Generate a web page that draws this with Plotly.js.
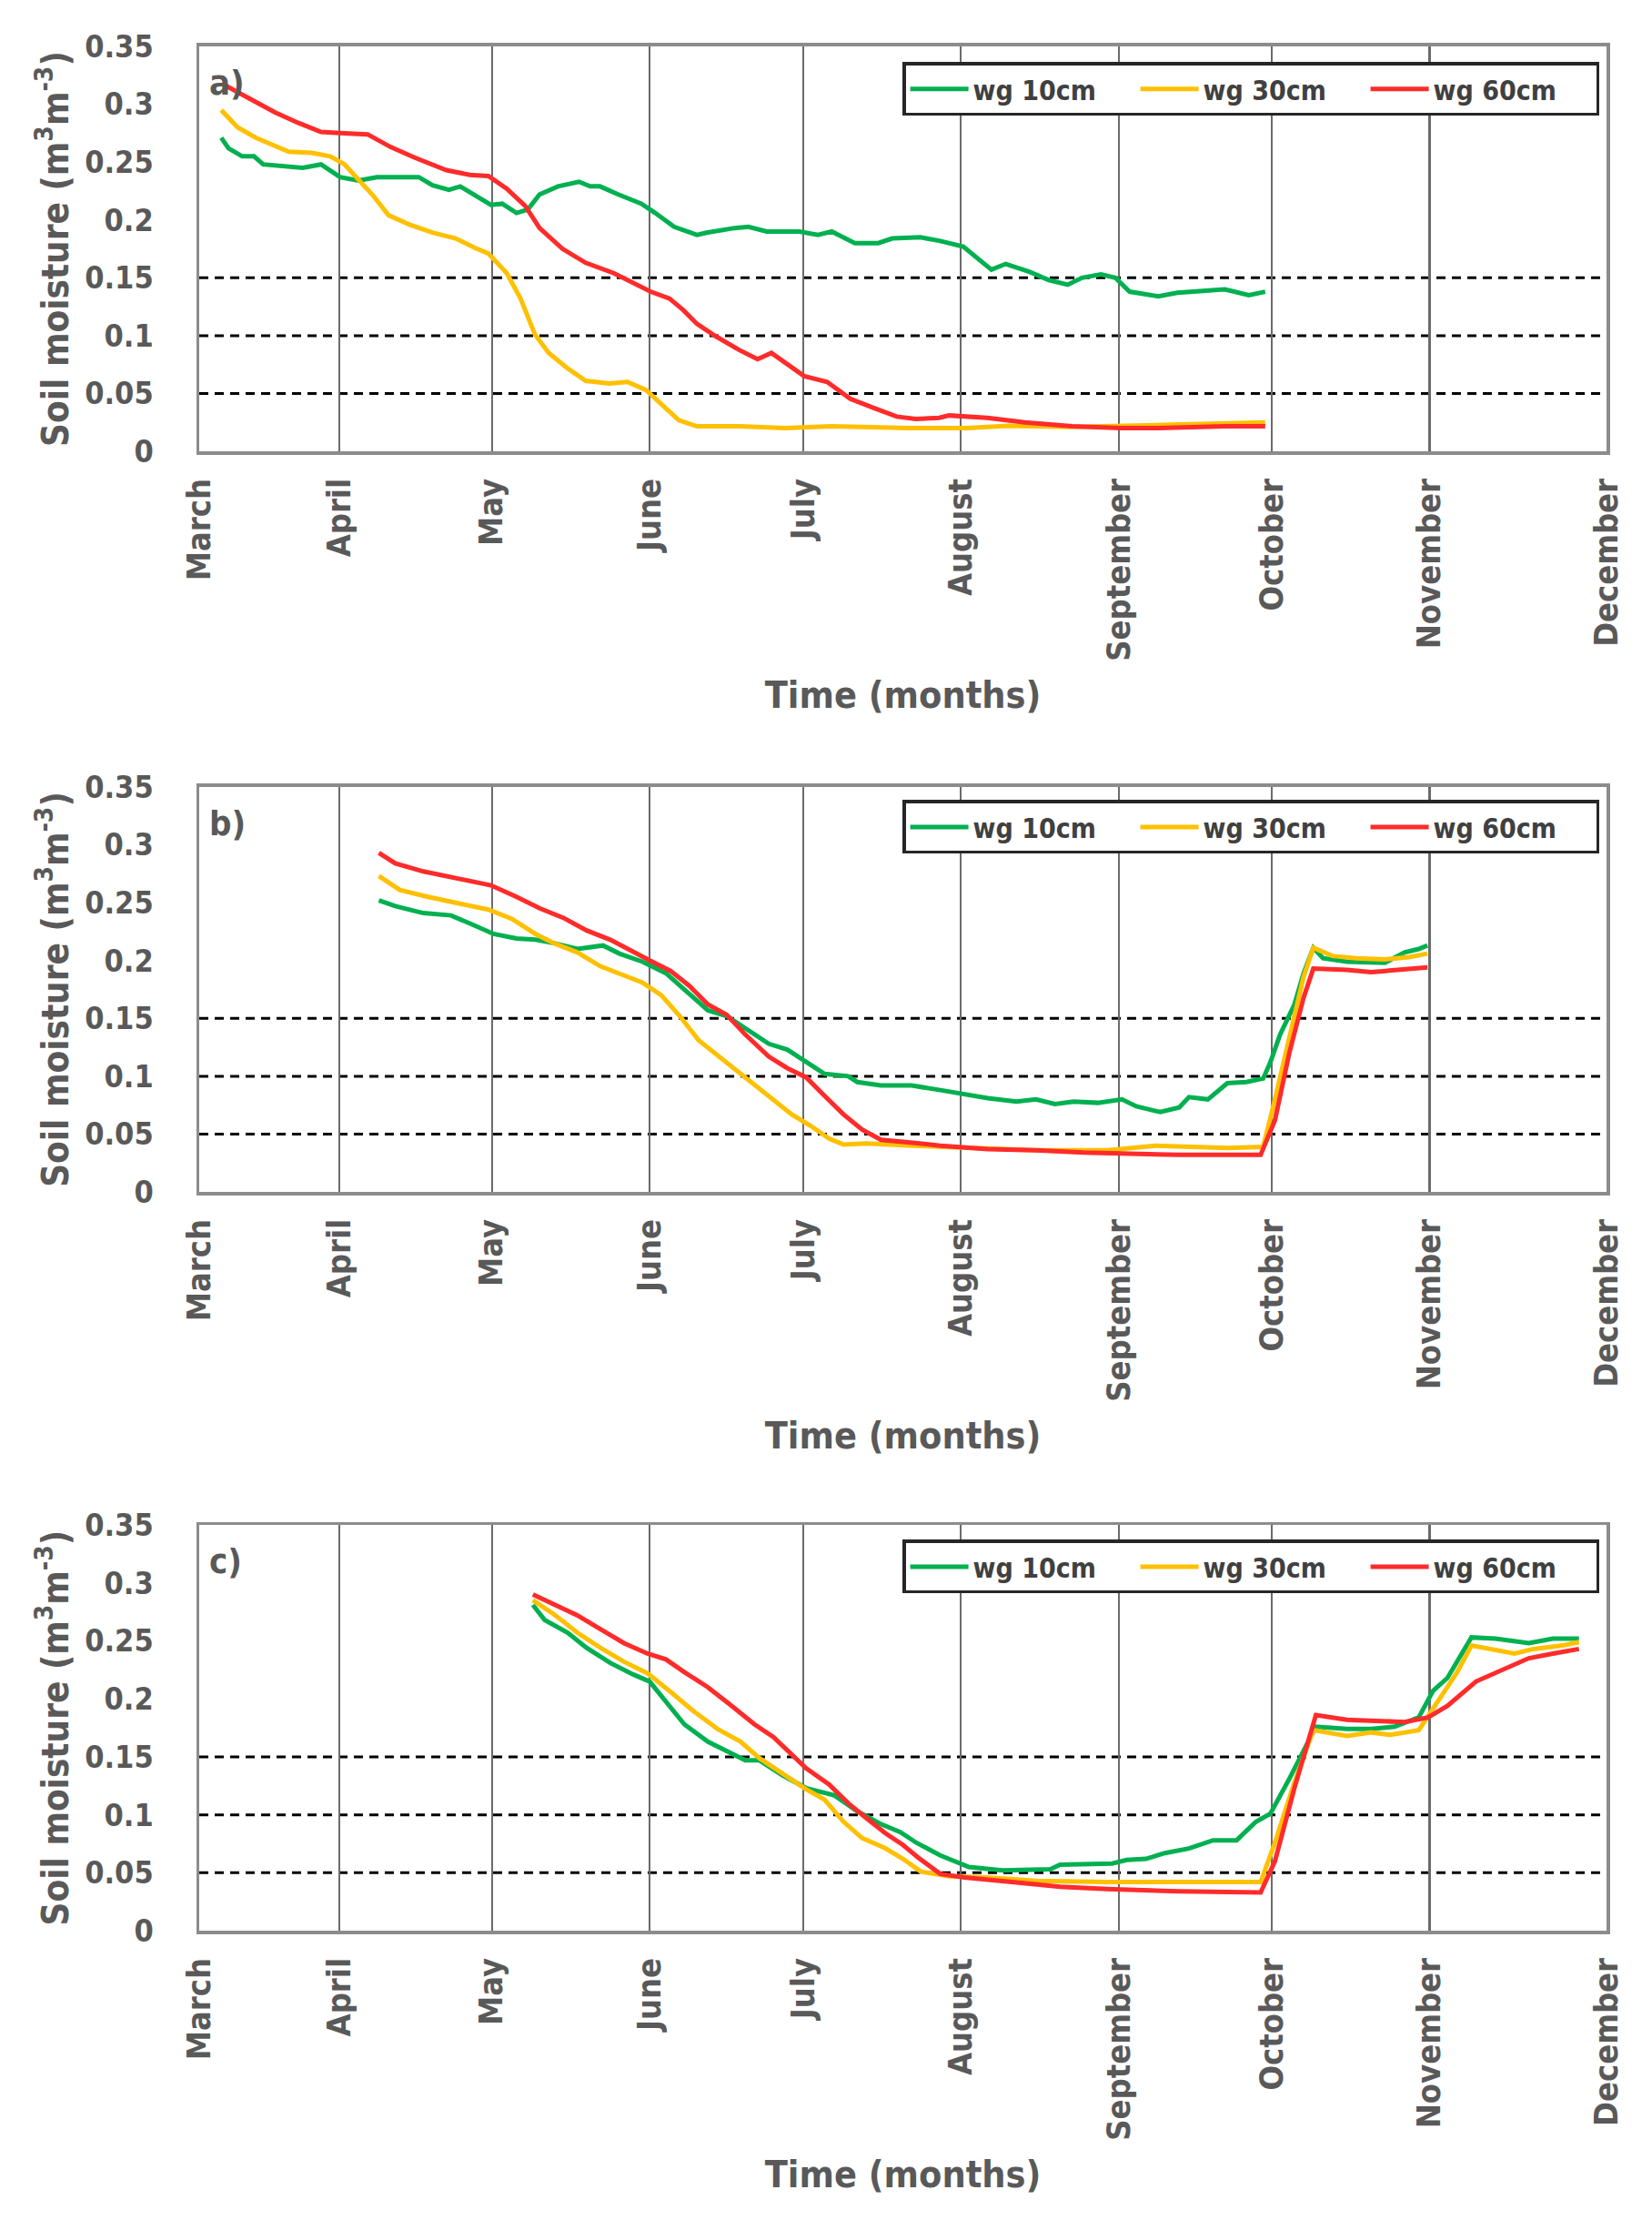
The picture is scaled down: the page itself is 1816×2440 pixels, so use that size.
<!DOCTYPE html>
<html>
<head>
<meta charset="utf-8">
<script src="https://cdn.plot.ly/plotly-3.0.1.min.js"></script>
<style>
  html, body { margin: 0; padding: 0; background: #fff; }
  #chart { width: 1816px; height: 2440px; }
</style>
</head>
<body>
<div id="chart"></div>
<script>
// days counted from 1 March; month gridlines as placed on the original axis
const monthNames = ["March", "April", "May", "June", "July", "August", "September", "October", "November", "December"];
const monthDays = [0, 27.4, 57.2, 88, 118, 148.8, 179.7, 209.6, 240.4, 275];
const thresholds = [0.05, 0.1, 0.15];
const depthNames = ["wg 10cm", "wg 30cm", "wg 60cm"];
const panelNames = ["a)", "b)", "c)"];

// panel a
const dayA10 = [4.3, 5.7, 8.4, 10.7, 12.5, 16.6, 20.2, 23.8, 27.5, 31.1, 34.7, 39.3, 42.9, 45.6, 48.8, 51, 54.7, 57, 59.2, 62, 64.2, 66.5, 70.1, 74.2, 76.4, 78.3, 81.9, 86.4, 89.1, 92.8, 97.3, 99.1, 104.6, 107.3, 110.9, 117.3, 120.9, 123.6, 128.1, 132.7, 135.4, 140.9, 144.6, 149.3, 154.8, 157.6, 162.3, 166, 169.7, 172.5, 176.2, 179, 181.8, 187.4, 191.1, 200.4, 205.1, 208.3];
const wgA10 = [0.271, 0.262, 0.255, 0.255, 0.248, 0.246, 0.245, 0.248, 0.237, 0.234, 0.237, 0.237, 0.237, 0.230, 0.226, 0.229, 0.219, 0.213, 0.214, 0.206, 0.209, 0.222, 0.229, 0.233, 0.229, 0.229, 0.222, 0.214, 0.206, 0.194, 0.187, 0.189, 0.193, 0.194, 0.190, 0.190, 0.187, 0.190, 0.180, 0.180, 0.184, 0.185, 0.182, 0.177, 0.157, 0.162, 0.155, 0.148, 0.144, 0.150, 0.153, 0.150, 0.138, 0.134, 0.137, 0.140, 0.135, 0.138];
const dayA30 = [4.3, 7.5, 11.1, 17.5, 22, 25.6, 28.4, 31.1, 33.8, 37, 41.1, 45.6, 50.1, 53.8, 56.5, 60.1, 62.8, 65.6, 68.3, 71.9, 75.5, 80.1, 83.7, 87.3, 91, 93.7, 97.3, 105.5, 114.5, 123.6, 138.8, 150, 158, 170, 190, 208.3];
const wgA30 = [0.295, 0.280, 0.271, 0.259, 0.258, 0.255, 0.248, 0.235, 0.222, 0.204, 0.196, 0.189, 0.184, 0.176, 0.171, 0.154, 0.132, 0.101, 0.085, 0.072, 0.061, 0.0586, 0.060, 0.053, 0.0375, 0.0269, 0.0216, 0.0216, 0.020, 0.0216, 0.020, 0.020, 0.022, 0.021, 0.023, 0.025];
const dayA60 = [5.2, 8.4, 14.8, 19.3, 23.8, 27.5, 32.9, 37.4, 42, 48.3, 52.9, 56.5, 60.1, 63.7, 66.5, 71, 75.5, 81, 84.6, 88.2, 91.9, 94.6, 97.3, 100.9, 105.5, 109.1, 111.8, 114.5, 118.2, 122.7, 127.2, 131.8, 136.3, 140, 144.6, 146.5, 154, 161.3, 170.6, 180, 187.4, 200.4, 208.3];
const wgA60 = [0.316, 0.308, 0.293, 0.284, 0.276, 0.275, 0.274, 0.263, 0.254, 0.243, 0.239, 0.238, 0.227, 0.212, 0.193, 0.175, 0.163, 0.154, 0.146, 0.138, 0.132, 0.122, 0.110, 0.0995, 0.0876, 0.0797, 0.085, 0.077, 0.065, 0.060, 0.0454, 0.0375, 0.030, 0.028, 0.029, 0.031, 0.029, 0.025, 0.0216, 0.020, 0.020, 0.0216, 0.0216];

// panel b
const dayB10 = [35.1, 38.3, 43.8, 49.2, 52.9, 57.5, 62, 65.7, 69.3, 73.9, 78.9, 82.1, 86.6, 91.2, 94.8, 99.4, 103.1, 107.6, 111.3, 114.9, 118.6, 122.2, 126.8, 128.6, 133.2, 139.2, 144.8, 149.5, 154.1, 159.7, 163.5, 167.2, 170.9, 175.6, 180.3, 183.1, 187.8, 191.5, 193.4, 197.1, 200.9, 204.6, 207.9, 209.3, 211.2, 214, 215.8, 217.7, 219.6, 224.3, 229, 231.7, 235.5, 238.3, 240];
const wgB10 = [0.252, 0.247, 0.241, 0.239, 0.232, 0.223, 0.219, 0.218, 0.215, 0.210, 0.213, 0.206, 0.199, 0.189, 0.175, 0.157, 0.152, 0.139, 0.128, 0.123, 0.112, 0.102, 0.100, 0.095, 0.092, 0.092, 0.088, 0.084, 0.081, 0.078, 0.080, 0.076, 0.078, 0.077, 0.080, 0.074, 0.069, 0.073, 0.082, 0.080, 0.094, 0.095, 0.098, 0.112, 0.136, 0.162, 0.189, 0.211, 0.202, 0.199, 0.198, 0.198, 0.207, 0.210, 0.213];
const dayB30 = [35.1, 39.2, 44.7, 51.1, 56.5, 61.1, 65.7, 69.3, 73.9, 78.4, 82.1, 86.6, 90.3, 93.9, 97.6, 102.1, 106.7, 111.3, 115.8, 119.5, 123.1, 125.9, 130.4, 139.4, 149.5, 163.5, 177.5, 186.9, 200.9, 207.9, 210.2, 213, 215.8, 217.7, 221.4, 226.1, 231.7, 236.4, 240];
const wgB30 = [0.273, 0.261, 0.255, 0.249, 0.244, 0.236, 0.223, 0.215, 0.207, 0.195, 0.189, 0.181, 0.170, 0.152, 0.131, 0.115, 0.099, 0.083, 0.067, 0.057, 0.046, 0.041, 0.042, 0.040, 0.038, 0.036, 0.036, 0.040, 0.038, 0.039, 0.080, 0.133, 0.186, 0.211, 0.204, 0.202, 0.201, 0.203, 0.206];
const dayB60 = [35.1, 38.3, 43.8, 51.1, 57, 62, 66.6, 71.1, 75.7, 80.3, 84.8, 88.5, 92.1, 95.8, 99.4, 103.1, 106.7, 111.3, 114.9, 118.6, 122.2, 125.9, 129.5, 133.2, 139.4, 144.8, 154.1, 163.5, 172.8, 182.2, 191.5, 207.4, 210.2, 213, 215.8, 217.7, 224.3, 229, 233.6, 240];
const wgB60 = [0.293, 0.284, 0.277, 0.270, 0.265, 0.255, 0.245, 0.237, 0.226, 0.218, 0.207, 0.199, 0.191, 0.178, 0.162, 0.153, 0.136, 0.117, 0.107, 0.099, 0.083, 0.067, 0.054, 0.045, 0.0425, 0.040, 0.037, 0.036, 0.034, 0.033, 0.032, 0.032, 0.062, 0.120, 0.168, 0.193, 0.192, 0.190, 0.192, 0.194];

// panel c
const dayC10 = [65.2, 67.5, 72, 75.7, 80.3, 84.8, 88, 91.2, 94.8, 99.4, 103.1, 106.7, 109.4, 114, 118.6, 124, 128.6, 133.2, 137, 140.1, 144.8, 150.4, 157, 166.3, 168.2, 178.4, 181.2, 185, 188.7, 193.4, 198.1, 202.7, 206.5, 209.3, 213, 215.8, 218.2, 224.3, 229, 233.6, 238.3, 241.1, 243.9, 248.6, 253.3, 259.8, 264.5, 269.6];
const wgC10 = [0.281, 0.268, 0.257, 0.244, 0.231, 0.221, 0.215, 0.197, 0.178, 0.163, 0.155, 0.147, 0.147, 0.134, 0.123, 0.117, 0.103, 0.092, 0.085, 0.076, 0.065, 0.055, 0.052, 0.053, 0.057, 0.058, 0.061, 0.062, 0.067, 0.071, 0.078, 0.078, 0.094, 0.101, 0.131, 0.155, 0.176, 0.174, 0.174, 0.176, 0.184, 0.207, 0.218, 0.253, 0.252, 0.248, 0.252, 0.252];
const dayC30 = [65.2, 69.3, 73.9, 78.4, 83, 87.6, 92.1, 96.7, 101.3, 105.8, 109.4, 114, 118.6, 122.2, 125.9, 129.5, 134.1, 137.5, 141, 146.6, 154.1, 163.5, 177.5, 191.5, 207.4, 210.2, 214, 217.7, 224.3, 229, 232.7, 238.3, 242, 245.8, 248.6, 253.3, 257, 260.7, 266.4, 269.6];
const wgC30 = [0.285, 0.273, 0.257, 0.244, 0.232, 0.222, 0.206, 0.189, 0.174, 0.163, 0.149, 0.136, 0.122, 0.113, 0.094, 0.080, 0.071, 0.062, 0.051, 0.047, 0.046, 0.043, 0.042, 0.042, 0.042, 0.076, 0.128, 0.173, 0.168, 0.171, 0.169, 0.173, 0.197, 0.223, 0.246, 0.242, 0.239, 0.243, 0.246, 0.249];
const dayC60 = [65.2, 69.3, 73.9, 78.4, 83, 87.6, 91.2, 94.8, 99.4, 104, 108.5, 112.2, 115.8, 118.6, 123.1, 126.8, 130.4, 134.1, 137.5, 140.5, 144.8, 149.5, 158.8, 168.2, 177.5, 191.5, 207.4, 210.2, 214, 218.2, 224.3, 229, 235.5, 240.1, 243.9, 249.5, 255.1, 259.8, 264.5, 269.6];
const wgC60 = [0.290, 0.282, 0.272, 0.260, 0.248, 0.239, 0.234, 0.223, 0.210, 0.194, 0.178, 0.167, 0.152, 0.140, 0.126, 0.110, 0.097, 0.084, 0.074, 0.063, 0.049, 0.046, 0.042, 0.038, 0.036, 0.034, 0.033, 0.060, 0.123, 0.186, 0.182, 0.181, 0.180, 0.184, 0.194, 0.215, 0.226, 0.235, 0.239, 0.243];

const panels = [
    [[dayA10, wgA10], [dayA30, wgA30], [dayA60, wgA60]],
    [[dayB10, wgB10], [dayB30, wgB30], [dayB60, wgB60]],
    [[dayC10, wgC10], [dayC30, wgC30], [dayC60, wgC60]]
];

const COLORS = ["#00b050", "#ffc000", "#ff2b2b"];
const FONT = "'DejaVu Sans Condensed', 'Liberation Sans Narrow', 'DejaVu Sans', sans-serif";
const GREY = "#595959";

// paper positions of the three plot areas (bottom, top)
const xDomain = [0.1206, 0.9725];
const yDomains = [[0.7967, 0.9791], [0.4631, 0.6455], [0.1303, 0.3131]];
const legendTops = [0.9720, 0.6396, 0.3064];

function axisName(i, kind) {
    return i == 0 ? kind : kind + (i + 1);
}

function makeX(i) {
    return {
        domain: xDomain,
        anchor: axisName(i, "y"),
        range: [0, 275],
        tickmode: "array",
        tickvals: monthDays,
        ticktext: monthNames,
        tickangle: -90,
        ticks: "",
        ticklabelstandoff: 12,
        tickfont: {family: FONT, size: 36, color: GREY, weight: "bold"},
        showgrid: true,
        gridcolor: "#6b6b6b",
        gridwidth: 2.5,
        zeroline: false,
        showline: true,
        mirror: true,
        linecolor: "#8c8c8c",
        linewidth: 3.5,
        fixedrange: true,
        title: {
            text: "Time (months)",
            font: {family: FONT, size: 41, color: GREY, weight: "bold"},
            standoff: 24
        }
    };
}

function makeY(i) {
    return {
        domain: yDomains[i],
        anchor: axisName(i, "x"),
        range: [0, 0.35],
        tick0: 0,
        dtick: 0.05,
        ticks: "",
        ticklabelstandoff: 40,
        tickfont: {family: FONT, size: 34, color: GREY, weight: "bold"},
        showgrid: false,
        zeroline: false,
        showline: true,
        mirror: true,
        linecolor: "#8c8c8c",
        linewidth: 3.5,
        fixedrange: true,
        title: {
            text: "Soil moisture (m<sup>3</sup>m<sup>-3</sup>)",
            font: {family: FONT, size: 40, color: GREY, weight: "bold"},
            standoff: 6
        }
    };
}

const data = [];
const layout = {
    width: 1816,
    height: 2440,
    margin: {l: 0, r: 0, t: 0, b: 0, autoexpand: false},
    paper_bgcolor: "#ffffff",
    plot_bgcolor: "#ffffff",
    font: {family: FONT, color: GREY},
    shapes: [],
    annotations: []
};

panels.forEach((series, i) => {
    const legendId = axisName(i, "legend");
    series.forEach(([days, wg], k) => {
        data.push({
            type: "scatter",
            mode: "lines",
            x: days,
            y: wg,
            name: depthNames[k],
            xaxis: axisName(i, "x"),
            yaxis: axisName(i, "y"),
            legend: legendId,
            line: {color: COLORS[k], width: 5},
            hoverinfo: "skip"
        });
    });

    layout[axisName(i, "xaxis")] = makeX(i);
    layout[axisName(i, "yaxis")] = makeY(i);

    layout[legendId] = {
        orientation: "h",
        x: 0.5463,
        y: legendTops[i],
        xanchor: "left",
        yanchor: "top",
        bgcolor: "#ffffff",
        bordercolor: "#262626",
        borderwidth: 3.5,
        itemwidth: 64,
        entrywidth: 174,
        entrywidthmode: "pixels",
        font: {family: FONT, size: 30, color: "#404040", weight: "bold"}
    };

    thresholds.forEach((v) => {
        layout.shapes.push({
            type: "line",
            xref: axisName(i, "x") + " domain",
            yref: axisName(i, "y"),
            x0: 0, x1: 1, y0: v, y1: v,
            layer: "below",
            line: {color: "#000000", width: 3, dash: "10px,7px"}
        });
    });

    layout.annotations.push({
        text: panelNames[i],
        xref: axisName(i, "x") + " domain",
        yref: axisName(i, "y") + " domain",
        x: 0.006, y: 0.91,
        xanchor: "left", yanchor: "middle",
        showarrow: false,
        font: {family: FONT, size: 38, color: GREY, weight: "bold"}
    });
});

Plotly.newPlot("chart", data, layout, {displayModeBar: false, staticPlot: true});
</script>
</body>
</html>
